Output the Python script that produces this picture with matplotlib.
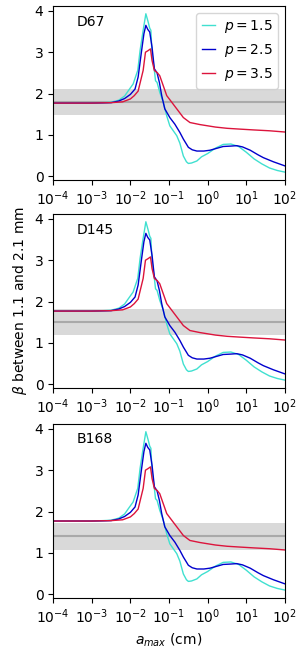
import numpy as np
import matplotlib
matplotlib.use("Agg")
import matplotlib.pyplot as plt


# log10(a_max / cm) and beta values (same for every panel)
LOGA_P15 = [-4.0, -3.5, -3.0, -2.7, -2.5, -2.3, -2.15, -2.06, -1.93, -1.81, -1.75,
            -1.67, -1.60, -1.54, -1.50, -1.47, -1.44, -1.38, -1.35, -1.31,
            -1.24, -1.15, -1.06, -0.98, -0.89, -0.80, -0.72, -0.63, -0.55, -0.50,
            -0.42, -0.28, -0.16, 0.0, 0.2, 0.4, 0.6, 0.8, 1.0, 1.2, 1.4, 1.6, 1.8, 2.0]
BETA_P15 = [1.77, 1.77, 1.77, 1.78, 1.79, 1.84, 1.94, 2.06, 2.23, 2.56, 3.04,
            3.53, 3.93, 3.73, 3.58, 3.53, 2.96, 2.56, 2.31, 2.27,
            2.03, 1.79, 1.46, 1.22, 1.10, 0.98, 0.80, 0.49, 0.35, 0.31,
            0.32, 0.37, 0.47, 0.55, 0.68, 0.77, 0.78, 0.72, 0.58, 0.42, 0.30, 0.20, 0.14, 0.10]

LOGA_P25 = [-4.0, -3.0, -2.5, -2.3, -2.15, -2.0, -1.88, -1.80, -1.71, -1.65, -1.60,
            -1.55, -1.50, -1.44, -1.38, -1.31, -1.25, -1.19, -1.11,
            -0.98, -0.85, -0.72, -0.63, -0.50, -0.40, -0.28, -0.1, 0.06,
            0.25, 0.40, 0.6, 0.75, 0.9, 1.1, 1.3, 1.44, 1.7, 2.0]
BETA_P25 = [1.77, 1.77, 1.78, 1.82, 1.88, 1.98, 2.11, 2.40, 3.04, 3.45, 3.65,
            3.55, 3.49, 3.12, 2.60, 2.50, 2.27, 1.95, 1.63,
            1.42, 1.26, 1.06, 0.90, 0.70, 0.64, 0.61, 0.61, 0.63,
            0.68, 0.72, 0.73, 0.74, 0.71, 0.63, 0.52, 0.45, 0.35, 0.25]

LOGA_P35 = [-4.0, -3.0, -2.5, -2.2, -2.0, -1.9, -1.80, -1.67, -1.61, -1.54,
            -1.48, -1.44, -1.38, -1.30, -1.24, -1.15, -1.06,
            -0.93, -0.80, -0.63, -0.46, -0.20, 0.2, 0.5,
            0.84, 1.2, 1.6, 2.0]
BETA_P35 = [1.77, 1.77, 1.78, 1.80, 1.87, 1.95, 2.06, 2.56, 3.00, 3.04,
            3.08, 2.80, 2.56, 2.50, 2.43, 2.19, 1.95,
            1.79, 1.63, 1.42, 1.30, 1.25, 1.19, 1.16,
            1.14, 1.12, 1.10, 1.07]

SOURCES = ["D67", "D145", "B168"]
BETA_OBS = [1.8, 1.5, 1.4]
BETA_ERR = [0.32, 0.32, 0.32]

SERIES = [
    ("$p = 1.5$", LOGA_P15, BETA_P15, "turquoise"),
    ("$p = 2.5$", LOGA_P25, BETA_P25, "mediumblue"),
    ("$p = 3.5$", LOGA_P35, BETA_P35, "crimson"),
]

fig = plt.figure(figsize=(3.0, 6.5), dpi=100)
bottoms = [0.723, 0.403, 0.080]
axes = [fig.add_axes([0.177, b, 0.773, 0.268]) for b in bottoms]

for i, ax in enumerate(axes):
    ax.axhspan(BETA_OBS[i] - BETA_ERR[i], BETA_OBS[i] + BETA_ERR[i],
               color="lightgray", alpha=0.85, lw=0)
    ax.axhline(BETA_OBS[i], color="darkgray", lw=1.5)
    for label, loga, beta, col in SERIES:
        ax.plot(10 ** np.array(loga), beta, color=col, lw=1.0, label=label)
    ax.set_xscale("log")
    ax.set_xlim(1e-4, 1e2)
    ax.set_xticks([1e-4, 1e-3, 1e-2, 1e-1, 1e0, 1e1, 1e2])
    ax.set_yticks([0, 1, 2, 3, 4])
    ax.text(0.10, 0.91, SOURCES[i], transform=ax.transAxes, va="center", fontsize=10)
    if i == 0:
        ax.legend(loc="upper right", fontsize=10, handlelength=1.0,
                  handletextpad=0.6)

axes[1].set_ylabel(r"$\beta$ between 1.1 and 2.1 mm")
axes[2].set_xlabel(r"$a_{max}$ (cm)")

fig.savefig("out.png", dpi=100)
